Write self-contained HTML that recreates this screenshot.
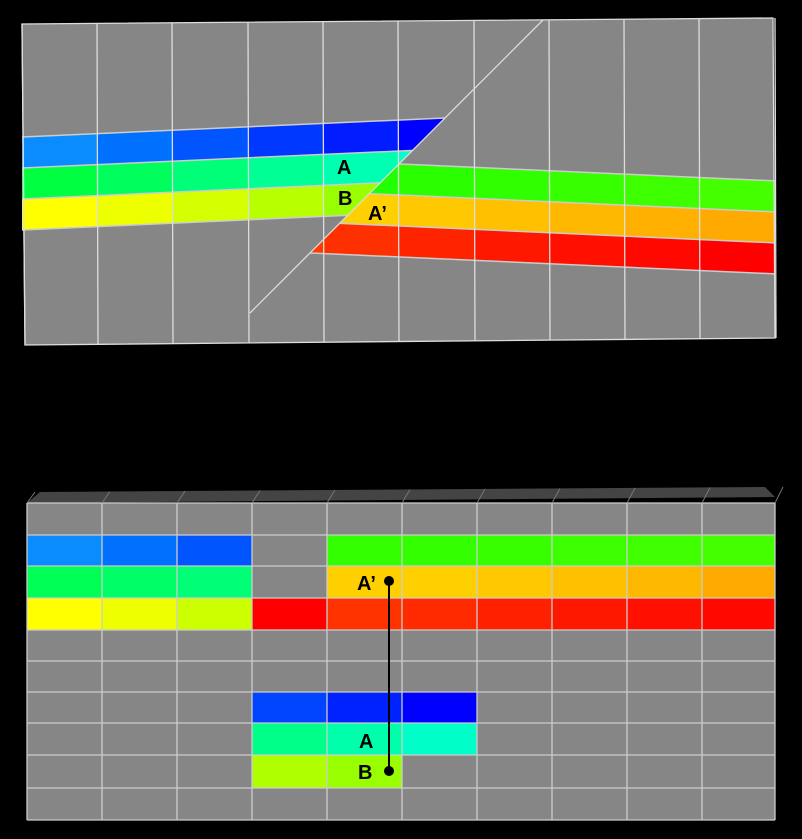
<!DOCTYPE html>
<html><head><meta charset="utf-8"><style>
html,body{margin:0;padding:0;background:#000;width:802px;height:839px;overflow:hidden}
svg{display:block}
text{font-family:"Liberation Sans",sans-serif;font-weight:bold;font-size:20px;fill:#000}
</style></head><body>
<svg id="s" width="802" height="839" viewBox="0 0 802 839" xmlns="http://www.w3.org/2000/svg">
<defs>
<clipPath id="cl"><polygon points="0,0 563,0 0,563"/></clipPath>
<clipPath id="cr"><polygon points="563,0 802,0 802,400 163,400"/></clipPath>
</defs>
<polygon points="22,24 773,18 775,338 25,345" fill="#868686"/>
<g id="tg"></g>
<g id="bg"></g>
</svg>
<script>
(function(){
var NS="http://www.w3.org/2000/svg";
function el(p,t,a){var e=document.createElementNS(NS,t);for(var k in a)e.setAttribute(k,a[k]);p.appendChild(e);return e;}
var tg=document.getElementById('tg');
var xs=[22,97,172,248,323,398,474,549,624,699,775];
var gL=el(tg,'g',{'clip-path':'url(#cl)'});
var gR=el(tg,'g',{'clip-path':'url(#cr)'});
var L=[["#0a8cff","#0070ff","#0055ff","#0038ff","#001cff","#0000ff","#0000ff"],
["#00ff40","#00ff5c","#00ff78","#00ff94","#00ffb0","#00ffc8","#00ffc8"],
["#ffff00","#eeff00","#d4ff00","#b8ff00","#99ff00","#88ff00","#88ff00"]];
var R=[["#00ff00","#00ff00","#00ff00","#10ff00","#22ff00","#2aff00","#30ff00","#38ff00","#3eff00","#44ff00"],
["#ffd800","#ffd800","#ffd800","#ffd800","#ffd000","#ffc800","#ffc000","#ffb800","#ffb000","#ffaa00"],
["#ff3a00","#ff3a00","#ff3a00","#ff3a00","#ff3000","#ff2400","#ff1800","#ff1000","#ff0800","#ff0000"]];
function yl(x,k){return 137+k*31-0.045*(x-22);}
function yr(x,k){return 164+k*31+0.045*(x-400);}
var i,k,a,b;
for(k=0;k<3;k++){
 for(i=0;i<7;i++){a=xs[i];b=xs[i+1];
  el(gL,'polygon',{points:a+','+yl(a,k)+' '+b+','+yl(b,k)+' '+b+','+yl(b,k+1)+' '+a+','+yl(a,k+1),fill:L[k][i]});}
 for(i=3;i<10;i++){a=xs[i];b=xs[i+1];
  el(gR,'polygon',{points:a+','+yr(a,k)+' '+b+','+yr(b,k)+' '+b+','+yr(b,k+1)+' '+a+','+yr(a,k+1),fill:R[k][i]});}
}
for(k=0;k<4;k++){
 el(gL,'line',{x1:22,y1:yl(22,k),x2:560,y2:yl(560,k),stroke:'#ccc','stroke-width':1.5});
 el(gR,'line',{x1:150,y1:yr(150,k),x2:775,y2:yr(775,k),stroke:'#ccc','stroke-width':1.5});
}
var tb=[24,24,23,22,22,21,20,20,19,19,18],bb=[345,344,344,343,342,342,341,340,340,339,338];
for(i=0;i<11;i++)el(tg,'line',{x1:xs[i],y1:tb[i],x2:xs[i]+(i==0?3:1),y2:bb[i],stroke:'#ddd','stroke-width':1.3});
el(tg,'line',{x1:250,y1:313,x2:543,y2:20,stroke:'#ddd','stroke-width':1.3});
el(tg,'polygon',{points:'22,24 773,18 775,338 25,345',fill:'none',stroke:'#ddd','stroke-width':1.3});
var t;
t=el(tg,'text',{x:337,y:174});t.textContent='A';
t=el(tg,'text',{x:338,y:205});t.textContent='B';
t=el(tg,'text',{x:368,y:220});t.textContent='A\u2019';
var bg=document.getElementById('bg');
el(bg,'polygon',{points:'27,503 40,492 765,487 775,497',fill:'#444'});
var bx=[27,102,177,252,327,402,477,552,627,702,775];
var ry=[503,535,566,598,630,661,692,723,755,788,820];
el(bg,'rect',{x:27,y:503,width:748,height:317,fill:'#868686'});
var cells={};
function set(r,c,col){cells[r+','+c]=col;}
["#0a8cff","#0070ff","#0055ff"].forEach(function(c,i){set(1,i,c);});
["#33ff00","#33ff00","#38ff00","#3cff00","#40ff00","#44ff00"].forEach(function(c,i){set(1,i+4,c);});
["#00ff55","#00ff66","#00ff77"].forEach(function(c,i){set(2,i,c);});
["#ffd000","#ffd000","#ffc800","#ffc000","#ffb800","#ffaa00"].forEach(function(c,i){set(2,i+4,c);});
["#ffff00","#eeff00","#ccff00"].forEach(function(c,i){set(3,i,c);});
["#ff0000","#ff3300","#ff2a00","#ff2000","#ff1800","#ff1000","#ff0800"].forEach(function(c,i){set(3,i+3,c);});
["#0044ff","#0022ff","#0000ff"].forEach(function(c,i){set(6,i+3,c);});
["#00ff88","#00ffaa","#00ffc8"].forEach(function(c,i){set(7,i+3,c);});
["#b0ff00","#99ff00"].forEach(function(c,i){set(8,i+3,c);});
for(var key in cells){var p=key.split(','),r=+p[0],c=+p[1];
 el(bg,'rect',{x:bx[c],y:ry[r],width:bx[c+1]-bx[c],height:ry[r+1]-ry[r],fill:cells[key]});}
for(i=0;i<11;i++)el(bg,'line',{x1:bx[i],y1:503,x2:bx[i],y2:820,stroke:'#ccc','stroke-width':1.3});
for(i=0;i<11;i++)el(bg,'line',{x1:27,y1:ry[i],x2:775,y2:ry[i],stroke:'#ccc','stroke-width':1.3});
for(i=0;i<11;i++)el(bg,'line',{x1:bx[i],y1:503,x2:bx[i]+8,y2:492-i*0.5,stroke:'#777','stroke-width':1});
el(bg,'line',{x1:389,y1:581,x2:389,y2:771,stroke:'#000','stroke-width':2});
el(bg,'circle',{cx:389,cy:581,r:5,fill:'#000'});
el(bg,'circle',{cx:389,cy:771,r:5,fill:'#000'});
t=el(bg,'text',{x:357,y:590});t.textContent='A\u2019';
t=el(bg,'text',{x:359,y:748});t.textContent='A';
t=el(bg,'text',{x:358,y:779});t.textContent='B';
})();
</script>
</body></html>
